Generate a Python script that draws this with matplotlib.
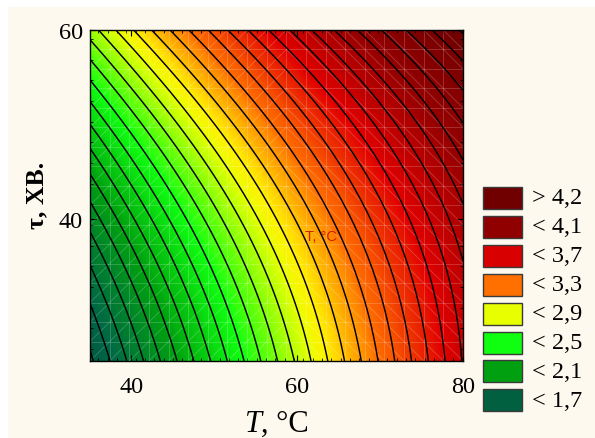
import numpy as np
import matplotlib
matplotlib.use('Agg')
import matplotlib.pyplot as plt
from matplotlib.colors import LinearSegmentedColormap
from matplotlib.patches import Rectangle
from matplotlib.collections import LineCollection
from matplotlib.ticker import MultipleLocator, FixedLocator

# fitted response surface z(T, tau), with dT = T - 35, dtau = tau - 25
t_range = [35, 80]
tau_range = [25, 60]
coef_const = 1.58
coef_t = 0.0495
coef_tau = 0.017
coef_t_tau = -2.86e-5
coef_tau2 = 4.7e-4
coef_t2_tau = -5.9e-6

line_levels = np.round(np.arange(1.5, 4.51, 0.1), 2)

# colour scale nodes (value, colour)
cmap_values = [1.5, 1.7, 2.1, 2.5, 2.9, 3.0, 3.3, 3.7, 4.1, 4.5]
cmap_colors = ['#00503f', '#006545', '#00a010', '#10ff10', '#e8ff00',
               '#fff000', '#ff7000', '#e00000', '#950000', '#700000']

legend_labels = ['> 4,2', '< 4,1', '< 3,7', '< 3,3', '< 2,9', '< 2,5', '< 2,1', '< 1,7']
legend_colors = ['#700000', '#900000', '#d80000', '#ff7000', '#e8ff00', '#10ff10', '#00a010', '#006040']

x_ticks = [40, 60, 80]
y_ticks = [40, 60]

W, H = 595, 439
fig = plt.figure(figsize=(W / 100, H / 100), dpi=100, facecolor='white')
fig.patches.append(Rectangle((8 / W, 0), 1, 1 - 8 / H, transform=fig.transFigure,
                             facecolor='#fdf9ef', edgecolor='none', zorder=-10))

ax = fig.add_axes([90 / W, 1 - 362 / H, (463 - 90) / W, (362 - 31) / H])

T = np.linspace(t_range[0], t_range[1], 300)
tau = np.linspace(tau_range[0], tau_range[1], 300)
TT, UU = np.meshgrid(T, tau)
dT = TT - 35
dU = UU - 25
Z = (coef_const + coef_t * dT + coef_tau * dU + coef_t_tau * dT * dU
     + coef_tau2 * dU ** 2 + coef_t2_tau * dT ** 2 * dU)

span = cmap_values[-1] - cmap_values[0]
cmap = LinearSegmentedColormap.from_list(
    'surf', [((v - cmap_values[0]) / span, c) for v, c in zip(cmap_values, cmap_colors)])

ax.contourf(TT, UU, Z, levels=np.linspace(1.5, 4.5, 241), cmap=cmap,
            vmin=cmap_values[0], vmax=cmap_values[-1], extend='both')

# faint white mesh of the surface grid
gx = np.linspace(t_range[0], t_range[1], 20)
gy = np.linspace(tau_range[0], tau_range[1], 18)
segs = [[(x, tau_range[0]), (x, tau_range[1])] for x in gx]
segs += [[(t_range[0], y), (t_range[1], y)] for y in gy]
for i in range(len(gx) - 1):
    for j in range(len(gy) - 1):
        if gx[i] < 57:
            segs.append([(gx[i], gy[j]), (gx[i + 1], gy[j + 1])])
        else:
            segs.append([(gx[i], gy[j + 1]), (gx[i + 1], gy[j])])
ax.add_collection(LineCollection(segs, colors='white', linewidths=0.6, alpha=0.22, zorder=2))

ax.contour(TT, UU, Z, levels=line_levels, colors='black', linewidths=1.05, zorder=3)

ax.text(60.9, 37.8, 'T, °C', color='#d02000', fontsize=10.5, family='Liberation Sans',
        va='baseline', zorder=4)

ax.set_xlim(t_range)
ax.set_ylim(tau_range)
ax.xaxis.set_major_locator(FixedLocator(x_ticks))
ax.yaxis.set_major_locator(FixedLocator(y_ticks))
ax.xaxis.set_minor_locator(MultipleLocator(1.125))
ax.yaxis.set_minor_locator(MultipleLocator(2.1875))
ax.tick_params(which='both', direction='in', top=True, right=True, color='black')
ax.tick_params(which='major', length=4, width=0.8, labelsize=17.5, pad=11)
ax.tick_params(axis='y', which='major', pad=5)
ax.tick_params(which='minor', length=2.5, width=0.6)
for lab in ax.get_xticklabels() + ax.get_yticklabels():
    lab.set_family('Liberation Serif')
for s in ax.spines.values():
    s.set_linewidth(1.0)

fig.text(245 / W, 1 - 432 / H, 'T', fontsize=22, family='Liberation Serif', style='italic',
         va='baseline', ha='left')
fig.text(261 / W, 1 - 432 / H, ', °C', fontsize=22, family='Liberation Serif',
         va='baseline', ha='left')
fig.text(37 / W, 1 - 195 / H, 'τ, ХВ.', fontsize=18.5, family='Liberation Serif',
         weight='bold', rotation=90, ha='center', va='center')

# legend boxes
for i, (lab, col) in enumerate(zip(legend_labels, legend_colors)):
    top = 188 + 28.9 * i
    fig.patches.append(Rectangle((483 / W, 1 - (top + 22) / H), 39 / W, 22 / H,
                                 transform=fig.transFigure, facecolor=col,
                                 edgecolor='#3a3a3a', linewidth=1.0))
    fig.text(532 / W, 1 - (top + 11) / H, lab, fontsize=17.5, family='Liberation Serif',
             va='center', ha='left')

fig.savefig('out.png', dpi=100, facecolor=fig.get_facecolor())
